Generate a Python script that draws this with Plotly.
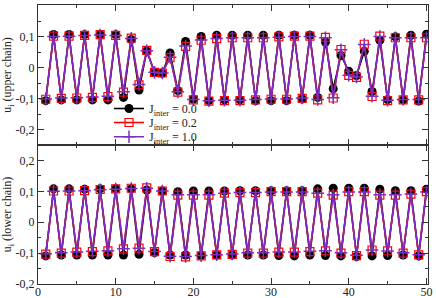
import plotly.graph_objects as go

site = list(range(1, 51))

upper_j00 = [-0.1065, 0.1075, -0.104, 0.1075, -0.104, 0.107, -0.104, 0.107, -0.104, 0.107,
             -0.096, 0.091, -0.072, 0.054, -0.015, -0.017, 0.048, -0.074, 0.085, -0.101,
             0.101, -0.1065, 0.105, -0.104, 0.105, -0.104, 0.105, -0.1065, 0.105, -0.1065,
             0.105, -0.1065, 0.105, -0.101, 0.105, -0.096, 0.083, -0.068, 0.040, -0.011,
             -0.025, 0.053, -0.077, 0.089, -0.103, 0.100, -0.104, 0.105, -0.108, 0.1085]
upper_j02 = [-0.102, 0.102, -0.099, 0.102, -0.098, 0.105, -0.096, 0.107, -0.093, 0.105,
             -0.079, 0.096, -0.055, 0.056, -0.015, -0.017, 0.033, -0.079, 0.069, -0.104,
             0.089, -0.108, 0.094, -0.1065, 0.097, -0.1065, 0.097, -0.104, 0.097, -0.102,
             0.100, -0.102, 0.102, -0.099, 0.102, -0.104, 0.098, -0.098, 0.059, -0.025,
             -0.031, 0.076, -0.093, 0.102, -0.1065, 0.097, -0.104, 0.097, -0.104, 0.097]
upper_j10 = [-0.101, 0.101, -0.098, 0.102, -0.097, 0.104, -0.095, 0.106, -0.092, 0.104,
             -0.078, 0.095, -0.054, 0.055, -0.015, -0.017, 0.034, -0.078, 0.070, -0.103,
             0.090, -0.107, 0.095, -0.105, 0.097, -0.105, 0.097, -0.103, 0.097, -0.101,
             0.099, -0.101, 0.101, -0.098, 0.101, -0.103, 0.097, -0.097, 0.058, -0.024,
             -0.030, 0.075, -0.092, 0.101, -0.105, 0.097, -0.103, 0.097, -0.103, 0.097]

lower_j00 = [-0.109, 0.108, -0.106, 0.108, -0.106, 0.107, -0.106, 0.108, -0.106, 0.108,
             -0.106, 0.108, -0.104, 0.104, -0.098, 0.101, -0.106, 0.099, -0.106, 0.101,
             -0.108, 0.101, -0.106, 0.101, -0.106, 0.102, -0.106, 0.102, -0.106, 0.102,
             -0.108, 0.102, -0.109, 0.102, -0.106, 0.108, -0.108, 0.110, -0.109, 0.110,
             -0.111, 0.110, -0.109, 0.107, -0.108, 0.102, -0.106, 0.102, -0.109, 0.107]
lower_j02 = [-0.1035, 0.101, -0.100, 0.101, -0.097, 0.102, -0.095, 0.106, -0.093, 0.108,
             -0.086, 0.110, -0.084, 0.111, -0.095, 0.101, -0.111, 0.088, -0.112, 0.088,
             -0.109, 0.088, -0.106, 0.094, -0.104, 0.096, -0.100, 0.096, -0.100, 0.099,
             -0.097, 0.099, -0.097, 0.099, -0.095, 0.094, -0.093, 0.088, -0.100, 0.099,
             -0.108, 0.099, -0.090, 0.088, -0.093, 0.088, -0.100, 0.091, -0.106, 0.099]
lower_j10 = [-0.102, 0.100, -0.099, 0.101, -0.096, 0.102, -0.094, 0.105, -0.092, 0.107,
             -0.086, 0.109, -0.084, 0.110, -0.095, 0.101, -0.110, 0.089, -0.111, 0.089,
             -0.108, 0.089, -0.105, 0.094, -0.103, 0.096, -0.099, 0.096, -0.099, 0.098,
             -0.096, 0.098, -0.096, 0.098, -0.094, 0.094, -0.092, 0.089, -0.099, 0.098,
             -0.107, 0.098, -0.090, 0.089, -0.093, 0.089, -0.099, 0.091, -0.105, 0.098]

series_names = ["J<sub>inter</sub> = 0.0", "J<sub>inter</sub> = 0.2", "J<sub>inter</sub> = 1.0"]
y_ticks = [-0.2, -0.1, 0, 0.1, 0.2]
y_tick_labels = ["-0,2", "-0,1", "0", "0,1", "0,2"]
x_ticks = [0, 10, 20, 30, 40, 50]

BLACK = "#000000"
RED = "#ff0000"
PURPLE = "#7a2ec4"
FONT = "Liberation Serif"

styles = [
    dict(line=dict(color=BLACK, width=1.6),
         marker=dict(symbol="circle", size=9, color=BLACK)),
    dict(line=dict(color=RED, width=1.6),
         marker=dict(symbol="square-open", size=8, color=RED, line=dict(width=1.2, color=RED))),
    dict(line=dict(color=PURPLE, width=1.6),
         marker=dict(symbol="cross-thin-open", size=9, color=PURPLE, line=dict(width=1.5, color=PURPLE))),
]

W, H = 436, 298
ML, MR, MT, MB = 38, 8, 5, 14
plot_w = W - ML - MR
plot_h = H - MT - MB

fig = go.Figure()
upper = [upper_j00, upper_j02, upper_j10]
lower = [lower_j00, lower_j02, lower_j10]
legend_ids = ["legend", "legend2", "legend3"]
for k in range(3):
    fig.add_trace(go.Scatter(x=site, y=upper[k], mode="lines+markers", name=series_names[k],
                             xaxis="x2", yaxis="y2", showlegend=True, legend=legend_ids[k],
                             **styles[k]))
for k in range(3):
    fig.add_trace(go.Scatter(x=site, y=lower[k], mode="lines+markers", name=series_names[k],
                             xaxis="x", yaxis="y", showlegend=False, **styles[k]))

axis_common = dict(showline=True, linecolor="#333333", linewidth=1.2, mirror="allticks",
                   ticks="inside", ticklen=6, tickcolor="#333333", tickwidth=1,
                   showgrid=False, zeroline=False, automargin=False,
                   tickfont=dict(family=FONT, size=12, color="#222222"))

split = 139 / 279

def legend_box(row):
    yc = [108.5, 122.5, 136.8][row]
    return dict(x=(109 - ML) / plot_w, y=(H - MB - yc) / plot_h, xanchor="left", yanchor="middle",
                bgcolor="rgba(255,255,255,0)", borderwidth=0,
                font=dict(family=FONT, size=12, color="#222222"), itemwidth=30)

fig.update_layout(
    width=W, height=H,
    margin=dict(l=ML, r=MR, t=MT, b=MB),
    paper_bgcolor="white", plot_bgcolor="white",
    font=dict(family=FONT, size=12, color="#222222"),
    xaxis=dict(range=[0, 50.2], domain=[0, 1], tickvals=x_ticks, anchor="y",
               ticklabelstandoff=-4,
               minor=dict(ticks="inside", ticklen=3, dtick=5, tickcolor="#333333"),
               **axis_common),
    xaxis2=dict(range=[0, 50.2], domain=[0, 1], tickvals=x_ticks, anchor="y2",
                showticklabels=False,
                minor=dict(ticks="inside", ticklen=3, dtick=5, tickcolor="#333333"),
                **axis_common),
    yaxis=dict(range=[-0.2, 0.25], domain=[0, split], tickvals=y_ticks, ticktext=y_tick_labels,
               anchor="x",
               minor=dict(ticks="inside", ticklen=3, dtick=0.05, tickcolor="#333333"),
               title=dict(text="u<sub>i</sub> (lower chain)", font=dict(family=FONT, size=12), standoff=2),
               **axis_common),
    yaxis2=dict(range=[-0.25, 0.203], domain=[split, 1], tickvals=y_ticks, ticktext=y_tick_labels,
                anchor="x2",
                minor=dict(ticks="inside", ticklen=3, dtick=0.05, tickcolor="#333333"),
                title=dict(text="u<sub>i</sub> (upper chain)", font=dict(family=FONT, size=12), standoff=2),
                **axis_common),
    legend=legend_box(0),
    legend2=legend_box(1),
    legend3=legend_box(2),
)

fig.write_html("out.html", config={"displayModeBar": False},
               post_script="document.body.style.margin='0';")
